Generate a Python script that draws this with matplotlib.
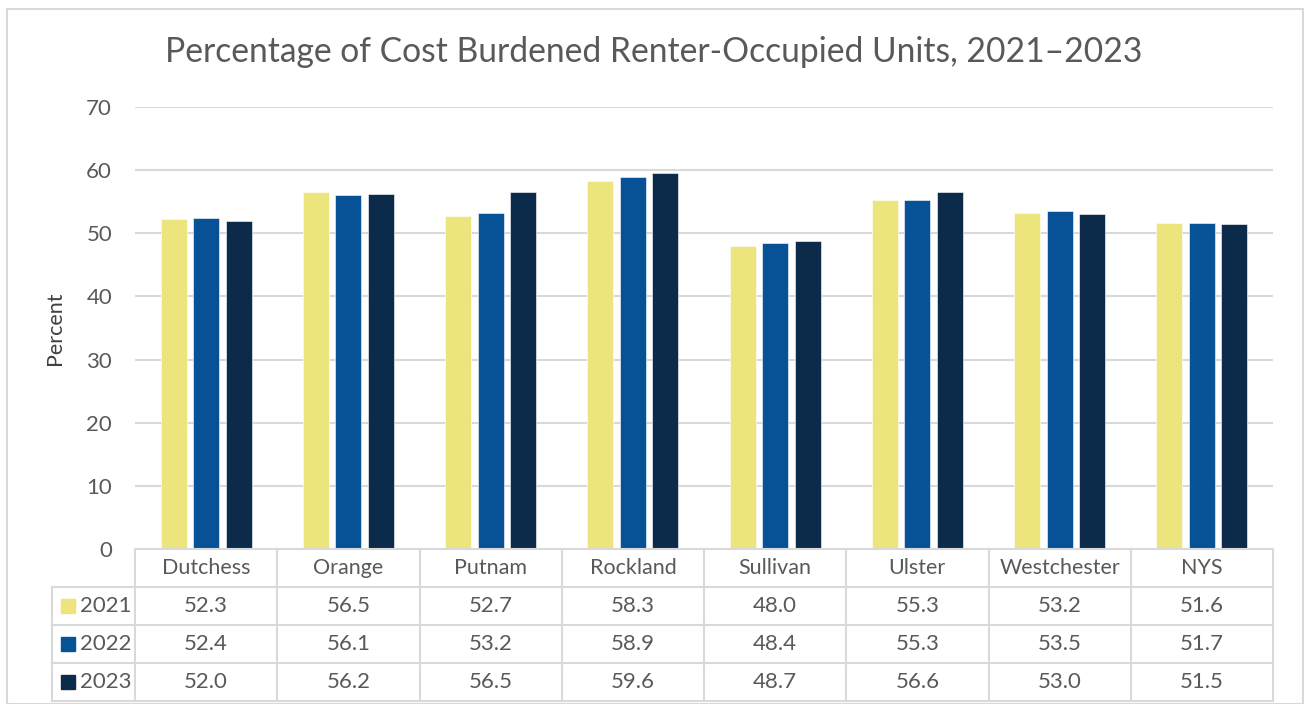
import matplotlib.pyplot as plt
import numpy as np

counties = ["Dutchess", "Orange", "Putnam", "Rockland", "Sullivan", "Ulster", "Westchester", "NYS"]
years = ["2021", "2022", "2023"]
pct_2021 = [52.3, 56.5, 52.7, 58.3, 48.0, 55.3, 53.2, 51.6]
pct_2022 = [52.4, 56.1, 53.2, 58.9, 48.4, 55.3, 53.5, 51.7]
pct_2023 = [52.0, 56.2, 56.5, 59.6, 48.7, 56.6, 53.0, 51.5]
colors = ["#ECE47C", "#075196", "#0C2B4B"]

TEXT = "#595959"
GRID = "#D9D9D9"
plt.rcParams["font.family"] = ["Lato", "DejaVu Sans"]

W, H = 1304, 704
fig = plt.figure(figsize=(W / 100, H / 100), dpi=100)

# plot area in pixels: x 135..1273, y 107 (70) .. 548 (0)
L, R, T, B = 135, 1273, 107, 549
ax = fig.add_axes([L / W, 1 - B / H, (R - L) / W, (B - T) / H])

series = [pct_2021, pct_2022, pct_2023]
x = np.arange(len(counties))
bw, step = 0.183, 0.229
for i, vals in enumerate(series):
    ax.bar(x + (i - 1) * step, vals, width=bw, color=colors[i],
           edgecolor="white", linewidth=0.4, zorder=3)

ax.set_xlim(-0.5, len(counties) - 0.5)
ax.set_ylim(0, 70)
ax.set_yticks(range(0, 71, 10))
ax.yaxis.grid(True, color=GRID, linewidth=1.5, zorder=0)
ax.set_xticks([])
for s in ax.spines.values():
    s.set_visible(False)
ax.tick_params(axis="y", length=0, pad=16.5, labelsize=16, labelcolor=TEXT)
ax.set_ylabel("Percent", fontsize=15.5, color="#404040", labelpad=15)

fig.text(0.5015, 1 - 52 / H, "Percentage of Cost Burdened Renter-Occupied Units, 2021\u20132023",
         ha="center", va="center", fontsize=24.2, color=TEXT)

# data table under the axis
px = lambda v: v / W
py = lambda v: 1 - v / H
rows = [549, 587, 625, 663, 701]
col_w = (R - L) / len(counties)
cols = [L + k * col_w for k in range(len(counties) + 1)]
leg_l = 52
lw = 1.5

for k, yy in enumerate(rows):
    x0 = L if k == 0 else leg_l
    fig.add_artist(plt.Line2D([px(x0), px(R)], [py(yy), py(yy)], color=GRID, lw=lw))
for cx in cols:
    fig.add_artist(plt.Line2D([px(cx), px(cx)], [py(rows[0]), py(rows[-1])], color=GRID, lw=lw))
fig.add_artist(plt.Line2D([px(leg_l), px(leg_l)], [py(rows[1]), py(rows[-1])], color=GRID, lw=lw))

for j, name in enumerate(counties):
    cx = (cols[j] + cols[j + 1]) / 2
    fig.text(px(cx), py((rows[0] + rows[1]) / 2), name, ha="center", va="center",
             fontsize=15.5, color=TEXT)
    for i, vals in enumerate(series):
        fig.text(px(cx), py((rows[i + 1] + rows[i + 2]) / 2), f"{vals[j]:.1f}",
                 ha="center", va="center", fontsize=16, color=TEXT)

for i, yr in enumerate(years):
    yc = (rows[i + 1] + rows[i + 2]) / 2
    fig.add_artist(plt.Rectangle((px(61), py(yc + 7)), px(14), 14 / H, color=colors[i]))
    fig.text(px(80), py(yc), yr, ha="left", va="center", fontsize=16, color=TEXT)

# outer chart border
fig.add_artist(plt.Rectangle((px(7), 0), px(1296), py(9), fill=False,
                             edgecolor=GRID, lw=1.5))

fig.savefig("out.png", dpi=100, facecolor="white")
